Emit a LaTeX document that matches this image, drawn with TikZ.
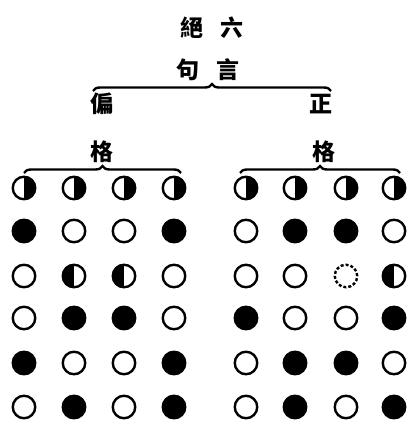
\documentclass[tikz,border=0pt]{standalone}
\usepackage{fontspec}
\newfontfamily\cjk{Noto Sans CJK TC}
\usepackage{tikz}
\usetikzlibrary{decorations.pathreplacing}

\begin{document}
\begin{tikzpicture}[x=1pt, y=-1pt,
  zi/.style={font=\cjk\bfseries\fontsize{23pt}{23pt}\selectfont, inner sep=0pt},
  dot/.style={circle, draw, line width=2.4pt, minimum size=22.5pt, inner sep=0pt},
  wdot/.style={dot},
  bdot/.style={dot, fill=black},
  hdot/.style={dot, path picture={\fill (path picture bounding box.north)
               rectangle (path picture bounding box.south east);}},
  rdot/.style={dot, path picture={\fill (path picture bounding box.south west)
               rectangle (path picture bounding box.north);}},
  qdot/.style={dot, dash pattern=on 3pt off 2pt},
  kuo/.style={decorate, decoration={brace, amplitude=7pt}, line width=2.4pt},
]
  \useasboundingbox (0,0) rectangle (414,427);

  % title
  \node[zi] (jue) at (192,28) {絕};
  \node[zi] (liu) at (232,28) {六};
  \node[zi] (ju) at (188,70) {句};
  \node[zi] (yan) at (228,70) {言};

  \coordinate (bigl) at (93,91);
  \coordinate (bigr) at (331,91);
  \draw[kuo] (bigl) -- (bigr);

  \node[zi] (pian) at (102,104) {偏};
  \node[zi] (zheng) at (321,104) {正};

  \node[zi] (gel) at (102,152) {格};
  \node[zi] (ger) at (324,152) {格};

  \coordinate (pl) at (24,173);
  \coordinate (pr) at (181,173);
  \coordinate (zl) at (240,173);
  \coordinate (zr) at (400,173);
  \draw[kuo] (pl) -- (pr);
  \draw[kuo] (zl) -- (zr);

  % 偏格
  \foreach \k/\x [count=\c] in {hdot/24, hdot/74, hdot/124, hdot/174}
    \node[\k] (p1-\c) at (\x,188) {};
  \foreach \k/\x [count=\c] in {bdot/24, wdot/74, wdot/124, bdot/174}
    \node[\k] (p2-\c) at (\x,231) {};
  \foreach \k/\x [count=\c] in {wdot/24, rdot/74, rdot/124, wdot/174}
    \node[\k] (p3-\c) at (\x,276) {};
  \foreach \k/\x [count=\c] in {wdot/24, bdot/74, bdot/124, wdot/174}
    \node[\k] (p4-\c) at (\x,318) {};
  \foreach \k/\x [count=\c] in {bdot/24, wdot/74, wdot/124, bdot/174}
    \node[\k] (p5-\c) at (\x,363) {};
  \foreach \k/\x [count=\c] in {wdot/24, bdot/74, wdot/124, bdot/174}
    \node[\k] (p6-\c) at (\x,407) {};

  % 正格
  \foreach \k/\x [count=\c] in {hdot/246, hdot/295, hdot/346, hdot/394}
    \node[\k] (z1-\c) at (\x,188) {};
  \foreach \k/\x [count=\c] in {wdot/246, bdot/295, bdot/346, wdot/394}
    \node[\k] (z2-\c) at (\x,231) {};
  \foreach \k/\x [count=\c] in {wdot/246, wdot/295, qdot/346, rdot/394}
    \node[\k] (z3-\c) at (\x,276) {};
  \foreach \k/\x [count=\c] in {bdot/246, wdot/295, wdot/346, bdot/394}
    \node[\k] (z4-\c) at (\x,318) {};
  \foreach \k/\x [count=\c] in {wdot/246, bdot/295, bdot/346, wdot/394}
    \node[\k] (z5-\c) at (\x,363) {};
  \foreach \k/\x [count=\c] in {wdot/246, bdot/295, wdot/346, bdot/394}
    \node[\k] (z6-\c) at (\x,407) {};
\end{tikzpicture}
\end{document}
